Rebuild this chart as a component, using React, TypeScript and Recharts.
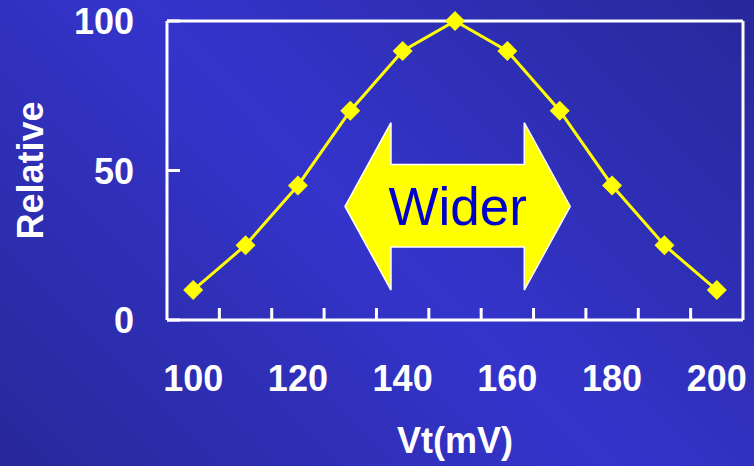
import { LineChart, Line, XAxis, YAxis, ReferenceArea } from "recharts";

const vt = [100, 110, 120, 130, 140, 150, 160, 170, 180, 190, 200];
const relative = [10, 25, 45, 70, 90, 100, 90, 70, 45, 25, 10];
const xLabelTicks = [100, 120, 140, 160, 180, 200];
const xMarkTicks = [105, 115, 125, 135, 145, 155, 165, 175, 185, 195];
const yTicks = [0, 50, 100];

// arrow annotation extent, in data units
const arrowVt = [129, 172];
const arrowRel = [10, 66];

const data = vt.map((v, i) => ({ vt: v, relative: relative[i] }));

const FONT = "'Liberation Sans', Arial, sans-serif";
const YELLOW = "#ffff00";

function XTick(props: any) {
  const { x, y, payload } = props;
  const v = payload.value;
  if (xLabelTicks.includes(v)) {
    return (
      <text x={x} y={y + 71} textAnchor="middle" fill="#fff" fontSize={36} fontWeight="bold" fontFamily={FONT}>
        {v}
      </text>
    );
  }
  return <line x1={x} x2={x} y1={y} y2={y - 12} stroke="#fff" strokeWidth={3} />;
}

function YTick(props: any) {
  const { x, y, payload } = props;
  return (
    <g>
      <line x1={x} x2={x + 13} y1={y} y2={y} stroke="#fff" strokeWidth={3} />
      <text x={x - 33} y={y + 13} textAnchor="end" fill="#fff" fontSize={36} fontWeight="bold" fontFamily={FONT}>
        {payload.value}
      </text>
    </g>
  );
}

function Diamond(props: any) {
  const { cx, cy } = props;
  if (cx == null || cy == null) return null;
  const r = 10;
  return <polygon points={`${cx},${cy - r} ${cx + r},${cy} ${cx},${cy + r} ${cx - r},${cy}`} fill={YELLOW} />;
}

function WiderArrow(props: any) {
  const { x, y, width: w, height: h } = props;
  const hx = w * 0.204;
  const s1 = h * 0.25;
  const s2 = h * 0.743;
  const pts = [
    [x, y + h / 2],
    [x + hx, y],
    [x + hx, y + s1],
    [x + w - hx, y + s1],
    [x + w - hx, y],
    [x + w, y + h / 2],
    [x + w - hx, y + h],
    [x + w - hx, y + s2],
    [x + hx, y + s2],
    [x + hx, y + h],
  ]
    .map((p) => p.join(","))
    .join(" ");
  return (
    <g>
      <polygon points={pts} fill={YELLOW} stroke="#fff" strokeWidth={1.5} />
      <text x={x + w / 2} y={y + h / 2 + 19} textAnchor="middle" fill="#0000cc" fontSize={53} fontFamily={FONT}>
        Wider
      </text>
    </g>
  );
}

export default function App() {
  return (
    <div
      style={{
        position: "fixed",
        left: 0,
        top: 0,
        width: 754,
        height: 466,
        background: "linear-gradient(45deg, #28289a 0%, #3434cc 50%, #28289a 100%)",
      }}
    >
      <LineChart width={754} height={466} data={data} margin={{ top: 20, right: 10, left: 0, bottom: 0 }}>
        <XAxis
          dataKey="vt"
          type="number"
          domain={[95, 205]}
          ticks={[...xLabelTicks, ...xMarkTicks].sort((a, b) => a - b)}
          interval={0}
          tick={<XTick />}
          tickLine={false}
          tickSize={0}
          tickMargin={0}
          height={146}
          axisLine={{ stroke: "#fff", strokeWidth: 3 }}
          label={{
            content: (p: any) => {
              const vb = p.viewBox;
              return (
                <text x={vb.x + vb.width / 2} y={453} textAnchor="middle" fill="#fff" fontSize={36} fontWeight="bold" fontFamily={FONT}>
                  Vt(mV)
                </text>
              );
            },
          }}
        />
        <XAxis xAxisId="top" orientation="top" type="number" dataKey="vt" domain={[95, 205]} tick={false} tickLine={false} height={1} axisLine={{ stroke: "#fff", strokeWidth: 3 }} />
        <YAxis
          type="number"
          domain={[0, 100]}
          ticks={yTicks}
          interval={0}
          tick={<YTick />}
          tickLine={false}
          tickSize={0}
          tickMargin={0}
          width={167}
          axisLine={{ stroke: "#fff", strokeWidth: 3 }}
          label={{
            content: (p: any) => {
              const vb = p.viewBox;
              const cy = vb.y + vb.height / 2;
              return (
                <text x={30} y={cy} transform={`rotate(-90 30 ${cy})`} textAnchor="middle" dominantBaseline="central" fill="#fff" fontSize={36} fontWeight="bold" fontFamily={FONT}>
                  Relative
                </text>
              );
            },
          }}
        />
        <YAxis yAxisId="right" orientation="right" domain={[0, 100]} tick={false} tickLine={false} width={1} axisLine={{ stroke: "#fff", strokeWidth: 3 }} />
        <ReferenceArea
          x1={arrowVt[0]}
          x2={arrowVt[1]}
          y1={arrowRel[0]}
          y2={arrowRel[1]}
          shape={(p: any) => <WiderArrow {...p} />}
        />
        <Line
          dataKey="relative"
          stroke={YELLOW}
          strokeWidth={3}
          dot={<Diamond />}
          activeDot={false}
          isAnimationActive={false}
        />
      </LineChart>
    </div>
  );
}
